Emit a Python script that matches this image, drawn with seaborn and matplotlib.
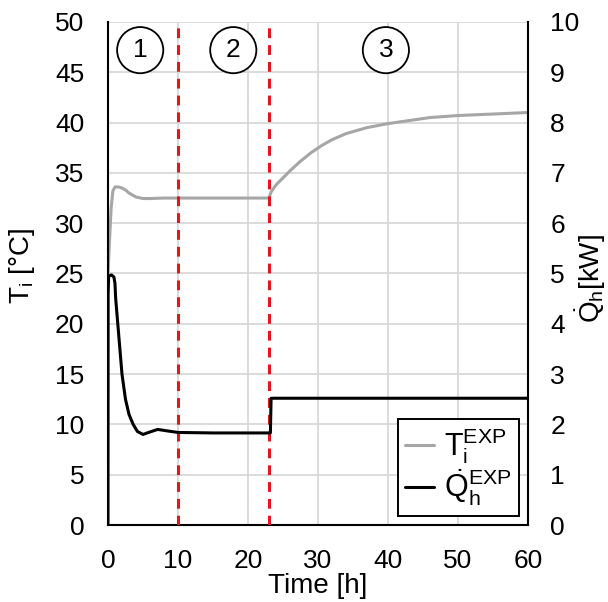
import numpy as np
import pandas as pd
import seaborn as sns
import matplotlib.pyplot as plt

# Indoor temperature T_i [°C]
time_T = [0, 0.2, 0.45, 0.7, 1.0, 1.5, 2.0, 2.5, 3.0, 3.5, 4.0, 5.0, 6.0, 8.0, 10, 15, 20, 23.0,
          23.3, 24, 25, 26, 27.4, 29, 30.5, 32, 34, 37, 40, 43, 46, 50, 55, 60]
temp_T = [24.9, 28.0, 31.5, 33.2, 33.6, 33.6, 33.5, 33.3, 33.0, 32.8, 32.6, 32.45, 32.45, 32.5, 32.5, 32.5, 32.5, 32.5,
          33.1, 33.8, 34.5, 35.2, 36.1, 37.0, 37.7, 38.3, 38.9, 39.5, 39.9, 40.2, 40.5, 40.7, 40.85, 41.0]

# Heating power Q_h [kW]
time_Q = [0, 0.02, 0.1, 0.5, 0.85, 1.0, 1.1, 1.4, 2.0, 2.5, 3.0, 3.6, 4.2, 5.0, 6.0, 7.1, 8.5,
          10, 15, 20, 23.2, 23.3, 30, 40, 50, 60]
power_Q = [0, 4.6, 4.95, 4.97, 4.93, 4.8, 4.5, 4.0, 3.0, 2.5, 2.2, 2.0, 1.86, 1.8, 1.85, 1.9, 1.87,
           1.84, 1.83, 1.83, 1.83, 2.52, 2.52, 2.52, 2.52, 2.52]

phase_bounds = [10, 23]
phase_labels = ["1", "2", "3"]
phase_label_x = [4.6, 17.9, 39.7]

df_T = pd.DataFrame({"time": time_T, "T": temp_T})
df_Q = pd.DataFrame({"time": time_Q, "Q": power_Q})

sns.set_theme(style="white")
plt.rcParams["font.family"] = ["Liberation Sans", "DejaVu Sans"]
plt.rcParams["mathtext.fontset"] = "custom"
plt.rcParams["mathtext.rm"] = "Liberation Sans"
plt.rcParams["mathtext.it"] = "Liberation Sans:italic"
for k in ("text.color", "axes.labelcolor", "xtick.color", "ytick.color"):
    plt.rcParams[k] = "black"

fs = 19
fig = plt.figure(figsize=(6.08, 6.02), dpi=100)
ax = fig.add_axes([0.1776, 0.1279, 0.6908, 0.8356])
ax2 = ax.twinx()

grid_c = "#d9d9d9"
for v in range(10, 61, 10):
    ax.axvline(v, color=grid_c, lw=1.3, zorder=0)
for v in range(5, 51, 5):
    ax.axhline(v, color=grid_c, lw=1.3, zorder=0)

sns.lineplot(data=df_T, x="time", y="T", ax=ax, color="#a6a6a6", lw=2.2, legend=False)
sns.lineplot(data=df_Q, x="time", y="Q", ax=ax2, color="black", lw=2.2, legend=False)

for b in phase_bounds:
    ax.axvline(b, color="#e3161c", lw=2.2, ls=(0, (3.2, 2.3)), zorder=3)

for lab, xp in zip(phase_labels, phase_label_x):
    ax.text(xp, 47.2, lab, fontsize=fs, ha="center", va="center",
            bbox=dict(boxstyle="circle,pad=0.42", fc="white", ec="black", lw=1.3), zorder=4)

ax.set_xlim(0, 60)
ax.set_ylim(0, 50)
ax2.set_ylim(0, 10)
ax.set_xticks(range(0, 61, 10))
ax.set_yticks(range(0, 51, 5))
ax2.set_yticks(range(0, 11, 1))

ax.tick_params(axis="both", length=0, labelsize=fs, pad=17)
ax2.tick_params(axis="y", length=0, labelsize=fs, pad=16)

for a in (ax, ax2):
    for s in a.spines.values():
        s.set_visible(False)
ax.spines["left"].set_visible(True)
ax.spines["bottom"].set_visible(True)
ax2.spines["right"].set_visible(True)
for s in (ax.spines["left"], ax.spines["bottom"], ax2.spines["right"]):
    s.set_color("black")
    s.set_linewidth(1.5)

ax.set_xlabel("Time [h]", fontsize=fs + 1, labelpad=0)
ax.set_ylabel(r"$\mathrm{T_i}$ [°C]", fontsize=fs + 1)
ax.yaxis.set_label_coords(-0.168, 0.515)
ax2.set_ylabel(r"$\dot{\mathrm{Q}}_\mathrm{h}$[kW]", fontsize=fs + 1)
ax2.yaxis.set_label_coords(1.11, 0.49)

h1 = plt.Line2D([], [], color="#a6a6a6", lw=2.2)
h2 = plt.Line2D([], [], color="black", lw=2.2)
leg = ax2.legend([h1, h2], [r"$\mathrm{T_i^{EXP}}$", r"$\dot{\mathrm{Q}}_\mathrm{h}^\mathrm{EXP}$"],
                 loc="lower right", fontsize=22, frameon=True, fancybox=False,
                 handlelength=0.95, handletextpad=0.3, borderaxespad=0.3,
                 labelspacing=0.05, borderpad=0.25)
leg.get_frame().set_edgecolor("black")
leg.get_frame().set_linewidth(1.4)
leg.get_frame().set_alpha(1)

fig.savefig("out.png", dpi=100)
